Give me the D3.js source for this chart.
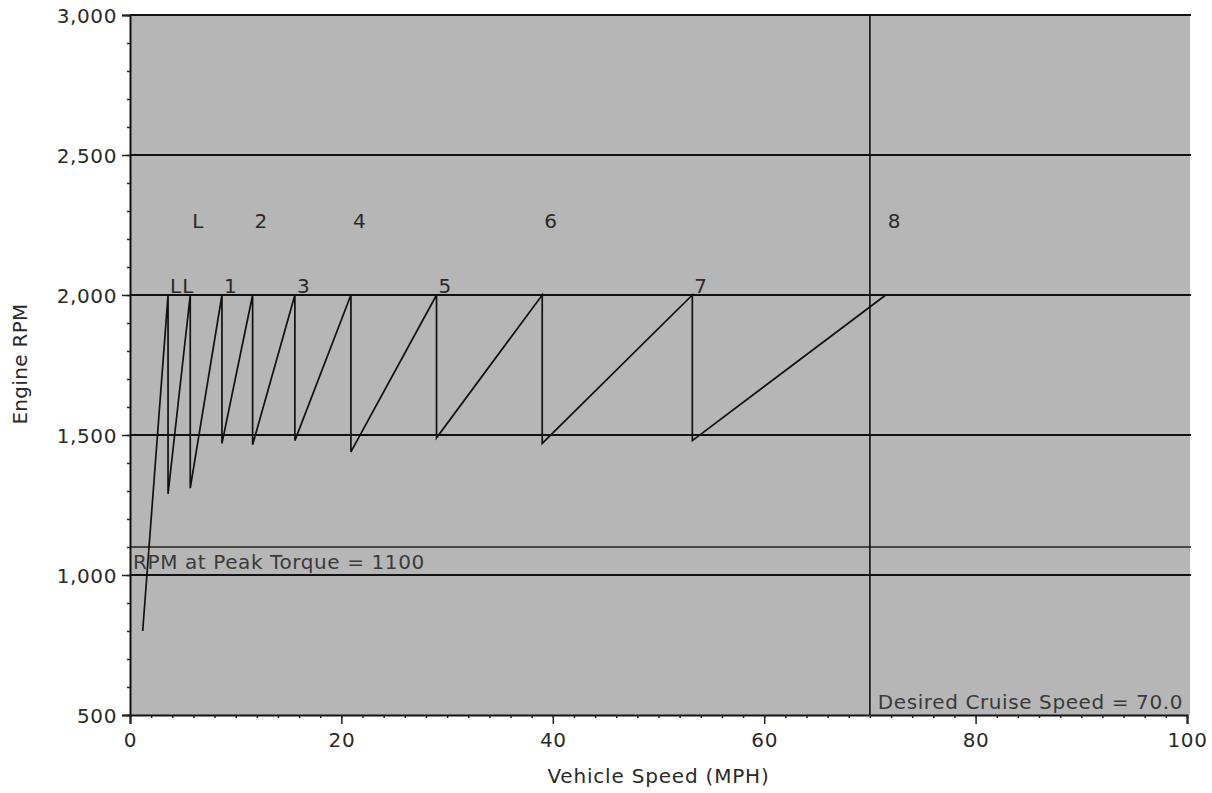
<!DOCTYPE html>
<html>
<head>
<meta charset="utf-8">
<script src="https://cdn.jsdelivr.net/npm/d3@7"></script>
<style>
  html, body { margin: 0; padding: 0; background: #ffffff; }
  svg { display: block; }
  text { font-family: "DejaVu Sans", sans-serif; }
</style>
</head>
<body>
<svg id="chart" width="1212" height="793"></svg>
<script>
// ---- data ----
const startPoint = { speed: 1.2, rpm: 800 };
const shiftSpeeds = [3.6, 5.7, 8.7, 11.6, 15.6, 20.9, 29.0, 39.0, 53.2, 71.5]; // speed where each gear reaches shift RPM
const shiftRpm = 2000;
const dropRpm = [1290, 1310, 1470, 1465, 1480, 1440, 1490, 1470, 1480];      // RPM right after each upshift
const gearLabels = ["LL", "L", "1", "2", "3", "4", "5", "6", "7", "8"];
const upperLabelRpm = 2240;
const gridRpm = [1000, 1500, 2000, 2500, 3000];
const peakTorqueRpm = 1100;
const cruiseSpeed = 70.0;
const xTicks = [0, 20, 40, 60, 80, 100];
const yTicks = [500, 1000, 1500, 2000, 2500, 3000];

// ---- layout ----
const W = 1212, H = 793;
const margin = { left: 130, right: 25, top: 15, bottom: 78 };
const svg = d3.select("#chart");
const x = d3.scaleLinear().domain([0, 100]).range([margin.left, W - margin.right]);
const y = d3.scaleLinear().domain([500, 3000]).range([H - margin.bottom, margin.top]);

// plot background
svg.append("rect")
  .attr("x", x(0)).attr("y", y(3000))
  .attr("width", x(100) - x(0) + 3).attr("height", y(500) - y(3000))
  .attr("fill", "#b6b6b6");

// horizontal gridlines
svg.append("g").selectAll("line").data(gridRpm).join("line")
  .attr("x1", x(0)).attr("x2", x(100) + 4)
  .attr("y1", d => y(d)).attr("y2", d => y(d))
  .attr("stroke", "#111").attr("stroke-width", 2.2);

// peak torque line
svg.append("line")
  .attr("x1", x(0)).attr("x2", x(100) + 4)
  .attr("y1", y(peakTorqueRpm)).attr("y2", y(peakTorqueRpm))
  .attr("stroke", "#222").attr("stroke-width", 1.6);

// cruise speed line
svg.append("line")
  .attr("x1", x(cruiseSpeed)).attr("x2", x(cruiseSpeed))
  .attr("y1", y(3000)).attr("y2", y(500))
  .attr("stroke", "#111").attr("stroke-width", 1.6);

// axes
const yAxis = d3.axisLeft(y).tickValues(yTicks).tickSize(8).tickPadding(5)
  .tickFormat(d3.format(","));
const gy = svg.append("g").attr("transform", `translate(${x(0)},0)`).call(yAxis);
const yMinor = d3.axisLeft(y).tickValues(d3.range(500, 3001, 100)).tickSize(3).tickFormat("");
svg.append("g").attr("transform", `translate(${x(0)},0)`).call(yMinor)
  .call(g => g.select(".domain").remove());

const xAxis = d3.axisBottom(x).tickValues(xTicks).tickSize(9).tickPadding(9);
const gx = svg.append("g").attr("transform", `translate(0,${y(500)})`).call(xAxis);
const xMinor = d3.axisBottom(x).tickValues(d3.range(0, 101, 2)).tickSize(3).tickFormat("");
svg.append("g").attr("transform", `translate(0,${y(500)})`).call(xMinor)
  .call(g => g.select(".domain").remove());

svg.selectAll(".domain").attr("stroke", "#111").attr("stroke-width", 2);
svg.selectAll(".tick line").attr("stroke", "#222").attr("stroke-width", 1.5);
svg.selectAll(".tick text")
  .attr("font-family", "DejaVu Sans, sans-serif")
  .attr("font-size", 20).attr("fill", "#2a2a2a")
  .style("letter-spacing", "0.6px");
gy.selectAll(".tick text").attr("dy", "0.36em");

// sawtooth path
const pts = [[startPoint.speed, startPoint.rpm]];
shiftSpeeds.forEach((s, i) => {
  pts.push([s, shiftRpm]);
  if (i < dropRpm.length) pts.push([s, dropRpm[i]]);
});
const line = d3.line().x(d => x(d[0])).y(d => y(d[1]));
svg.append("path").datum(pts)
  .attr("d", line)
  .attr("fill", "none").attr("stroke", "#111").attr("stroke-width", 1.7)
  .attr("stroke-linejoin", "miter");

// gear labels
svg.append("g").selectAll("text").data(gearLabels).join("text")
  .attr("x", (d, i) => x(shiftSpeeds[i]) + 2)
  .attr("y", (d, i) => i % 2 === 0 ? y(shiftRpm) - 2 : y(upperLabelRpm))
  .attr("font-size", 20).attr("fill", "#2a2a2a")
  .style("letter-spacing", "1px")
  .text(d => d);

// annotations
svg.append("text")
  .attr("x", x(0) + 3).attr("y", y(peakTorqueRpm) + 22)
  .attr("font-size", 20).attr("fill", "#3a3a3a")
  .style("letter-spacing", "0.6px")
  .text("RPM at Peak Torque = " + peakTorqueRpm);

svg.append("text")
  .attr("x", x(100) - 4).attr("y", y(500) - 6)
  .attr("text-anchor", "end")
  .attr("font-size", 20).attr("fill", "#3a3a3a")
  .style("letter-spacing", "0.6px")
  .text("Desired Cruise Speed = " + cruiseSpeed.toFixed(1));

// axis titles
svg.append("text")
  .attr("x", (x(0) + x(100)) / 2).attr("y", 783)
  .attr("text-anchor", "middle")
  .attr("font-size", 20).attr("fill", "#2a2a2a")
  .style("letter-spacing", "0.8px")
  .text("Vehicle Speed (MPH)");

svg.append("text")
  .attr("transform", "translate(27,364) rotate(-90)")
  .attr("text-anchor", "middle")
  .attr("font-size", 20).attr("fill", "#2a2a2a")
  .style("letter-spacing", "0.3px")
  .text("Engine RPM");
</script>
</body>
</html>
